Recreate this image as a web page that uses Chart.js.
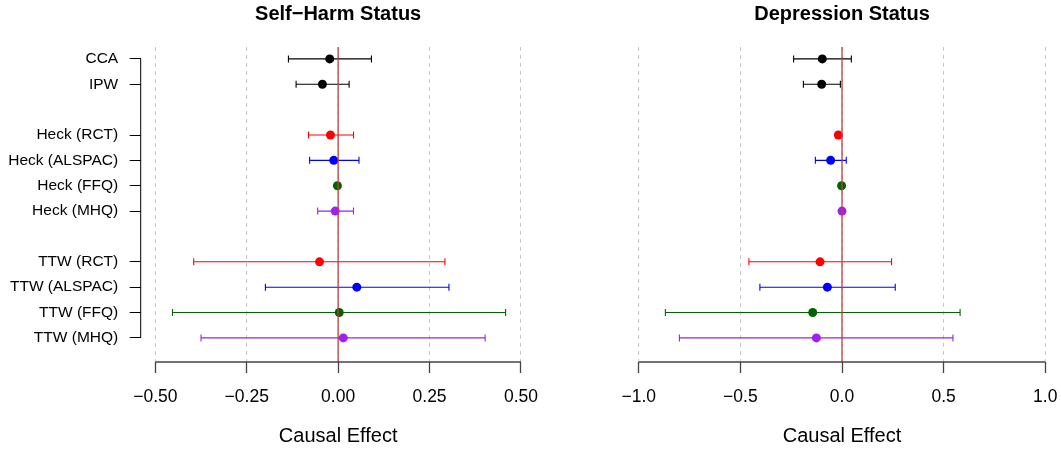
<!DOCTYPE html>
<html>
<head>
<meta charset="utf-8">
<script src="https://cdn.jsdelivr.net/npm/chart.js@4"></script>
<style>
  html, body { margin: 0; padding: 0; background: #ffffff; overflow: hidden; }
  #wrap { position: relative; width: 1061px; height: 449px; background: #ffffff; overflow: hidden; }
  canvas { position: absolute; left: 0; top: 0; }
</style>
</head>
<body>
<div id="wrap">
  <canvas id="c1" width="1061" height="449"></canvas>
  <canvas id="c2" width="1085" height="449"></canvas>
</div>
<script>
// ---------- data ----------
const rowLabels = ['CCA', 'IPW', 'Heck (RCT)', 'Heck (ALSPAC)', 'Heck (FFQ)', 'Heck (MHQ)',
                   'TTW (RCT)', 'TTW (ALSPAC)', 'TTW (FFQ)', 'TTW (MHQ)'];
const rowIndex = [1, 2, 4, 5, 6, 7, 9, 10, 11, 12];

const selfHarmEst   = [-0.023, -0.043, -0.021, -0.012, -0.002, -0.008, -0.051,  0.051,  0.003,  0.014];
const selfHarmLower = [-0.136, -0.115, -0.081, -0.078, -0.004, -0.056, -0.395, -0.199, -0.453, -0.375];
const selfHarmUpper = [ 0.091,  0.030,  0.042,  0.057,  0.000,  0.042,  0.292,  0.303,  0.458,  0.402];

const deprEst   = [-0.097, -0.100, -0.018, -0.056, -0.002,  0.000, -0.108, -0.072, -0.144, -0.126];
const deprLower = [-0.238, -0.190, -0.020, -0.131, -0.004, -0.002, -0.458, -0.404, -0.869, -0.800];
const deprUpper = [ 0.046, -0.008, -0.016,  0.021,  0.000,  0.002,  0.244,  0.262,  0.581,  0.546];

const selfHarmTicks = [-0.5, -0.25, 0, 0.25, 0.5];
const selfHarmTickLabels = ['\u22120.50', '\u22120.25', '0.00', '0.25', '0.50'];
const deprTicks = [-1, -0.5, 0, 0.5, 1];
const deprTickLabels = ['\u22121.0', '\u22120.5', '0.0', '0.5', '1.0'];

const titles = ['Self\u2212Harm Status', 'Depression Status'];
const xAxisTitle = 'Causal Effect';

// ---------- style ----------
const rowColors = ['#000000', '#000000', '#FF0000', '#0000FF', '#006400', '#A020F0',
                   '#FF0000', '#0000FF', '#006400', '#A020F0'];
const FONT = "'Liberation Sans', Arial, Helvetica, sans-serif";
Chart.defaults.font.family = FONT;

function makeChart(id, est, lo, hi, xticks, xtickLabels, title, showY, pad) {
  const span = xticks[xticks.length - 1] - xticks[0];
  const xMin = xticks[0] - 0.04 * span;
  const xMax = xticks[xticks.length - 1] + 0.04 * span;

  const rPlugin = {
    id: 'rstyle_' + id,
    beforeDatasetsDraw(chart) {
      const ctx = chart.ctx, xs = chart.scales.x, ys = chart.scales.y;
      ctx.save();
      ctx.lineWidth = 1.1;
      const cap = 3.5;
      for (let i = 0; i < est.length; i++) {
        const y = ys.getPixelForValue(rowIndex[i]);
        const x1 = xs.getPixelForValue(lo[i]);
        const x2 = xs.getPixelForValue(hi[i]);
        ctx.strokeStyle = rowColors[i];
        ctx.beginPath();
        ctx.moveTo(x1, y); ctx.lineTo(x2, y);
        ctx.moveTo(x1, y - cap); ctx.lineTo(x1, y + cap);
        ctx.moveTo(x2, y - cap); ctx.lineTo(x2, y + cap);
        ctx.stroke();
      }
      ctx.restore();
    },
    afterDatasetsDraw(chart) {
      const ctx = chart.ctx, xs = chart.scales.x, ca = chart.chartArea;
      ctx.save();
      const x0 = xs.getPixelForValue(0);
      ctx.strokeStyle = 'rgba(190,60,60,0.8)';
      ctx.lineWidth = 1.6;
      ctx.beginPath();
      ctx.moveTo(x0, ca.top); ctx.lineTo(x0, ca.bottom);
      ctx.stroke();
      ctx.restore();
    },
    afterDraw(chart) {
      const ctx = chart.ctx, xs = chart.scales.x, ys = chart.scales.y, ca = chart.chartArea;
      ctx.save();
      ctx.strokeStyle = '#444444';
      ctx.lineWidth = 1.3;
      ctx.beginPath();
      ctx.moveTo(xs.getPixelForValue(xticks[0]), ca.bottom);
      ctx.lineTo(xs.getPixelForValue(xticks[xticks.length - 1]), ca.bottom);
      ctx.stroke();
      if (showY) {
        ctx.strokeStyle = '#000000';
        ctx.lineWidth = 1;
        ctx.beginPath();
        ctx.moveTo(ca.left, ys.getPixelForValue(rowIndex[0]));
        ctx.lineTo(ca.left, ys.getPixelForValue(rowIndex[rowIndex.length - 1]));
        ctx.stroke();
      }
      const cx = (ca.left + ca.right) / 2;
      ctx.fillStyle = '#000000';
      ctx.textAlign = 'center';
      ctx.textBaseline = 'middle';
      ctx.font = 'bold 20px ' + FONT;
      ctx.fillText(title, cx, 14);
      ctx.font = '20px ' + FONT;
      ctx.fillText(xAxisTitle, cx, 436);
      ctx.restore();
    }
  };

  return new Chart(document.getElementById(id), {
    type: 'scatter',
    data: {
      datasets: [{
        data: est.map((v, i) => ({ x: v, y: rowIndex[i] })),
        pointBackgroundColor: rowColors,
        pointBorderWidth: 0,
        pointRadius: 4.5,
        pointHoverRadius: 4.5
      }]
    },
    options: {
      responsive: false,
      animation: false,
      events: [],
      layout: { padding: pad },
      plugins: { legend: { display: false }, tooltip: { enabled: false }, title: { display: false } },
      scales: {
        x: {
          type: 'linear',
          min: xMin,
          max: xMax,
          afterBuildTicks(scale) { scale.ticks = xticks.map(v => ({ value: v })); },
          afterFit(scale) { scale.height = 87; scale.paddingLeft = 0; scale.paddingRight = 0; },
          grid: {
            display: true,
            drawOnChartArea: true,
            drawTicks: true,
            color: '#C8C8C8',
            lineWidth: 1,
            tickLength: 11,
            tickColor: '#444444',
            tickWidth: 1.3,
            tickBorderDash: []
          },
          border: { display: false, dash: [4, 4] },
          ticks: {
            autoSkip: false,
            maxRotation: 0,
            minRotation: 0,
            color: '#000000',
            padding: 14,
            font: { size: 17.5, family: FONT },
            callback(value) {
              const k = xticks.indexOf(value);
              return k >= 0 ? xtickLabels[k] : '';
            }
          }
        },
        y: {
          type: 'linear',
          reverse: true,
          min: 0.53,
          max: 12.95,
          display: showY,
          afterBuildTicks(scale) { scale.ticks = rowIndex.map(v => ({ value: v })); },
          afterFit(scale) { if (showY) scale.width = 140.7; scale.paddingTop = 0; scale.paddingBottom = 0; },
          grid: {
            display: true,
            drawOnChartArea: false,
            drawTicks: true,
            tickLength: 11,
            tickColor: '#000000',
            tickWidth: 1
          },
          border: { display: false },
          ticks: {
            autoSkip: false,
            color: '#000000',
            padding: 11.5,
            font: { size: 15.5, family: FONT },
            callback(value) {
              const k = rowIndex.indexOf(value);
              return k >= 0 ? rowLabels[k] : '';
            }
          }
        }
      }
    },
    plugins: [rPlugin]
  });
}

makeChart('c1', selfHarmEst, selfHarmLower, selfHarmUpper, selfHarmTicks, selfHarmTickLabels,
          titles[0], true, { top: 47, right: 525.4, bottom: 0, left: 0 });
makeChart('c2', deprEst, deprLower, deprUpper, deprTicks, deprTickLabels,
          titles[1], false, { top: 47, right: 23.5, bottom: 0, left: 622.5 });
</script>
</body>
</html>
